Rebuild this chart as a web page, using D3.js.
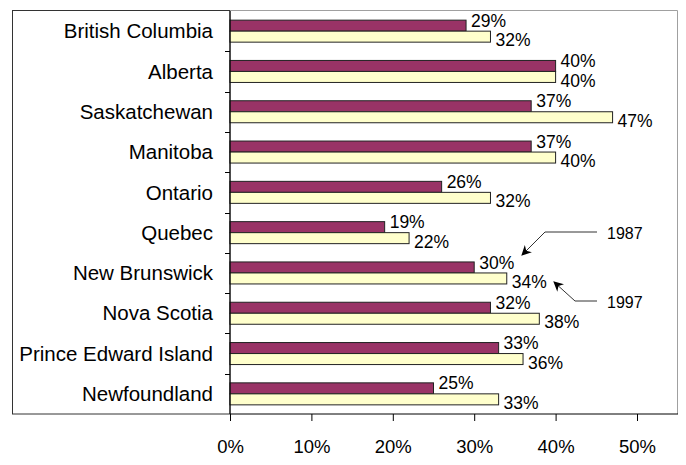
<!DOCTYPE html>
<html>
<head>
<meta charset="utf-8">
<script src="https://cdn.jsdelivr.net/npm/d3@7"></script>
<style>
  body { margin: 0; background: #fff; }
  text { font-family: "Liberation Sans", Arial, sans-serif; fill: #000; }
</style>
</head>
<body>
<svg id="chart" width="686" height="465"></svg>
<script>
// provinces, top to bottom
const provinces = ['British Columbia', 'Alberta', 'Saskatchewan', 'Manitoba', 'Ontario',
    'Quebec', 'New Brunswick', 'Nova Scotia', 'Prince Edward Island', 'Newfoundland'];
const years = ['1987', '1997'];
const values1987 = [29, 40, 37, 37, 26, 19, 30, 32, 33, 25];
const values1997 = [32, 40, 47, 40, 32, 22, 34, 38, 36, 33];
const xTicks = [0, 10, 20, 30, 40, 50];

const colors = { '1987': '#993366', '1997': '#FFFFCC' };

const svg = d3.select('#chart');

// plot area
const plotLeft = 230, plotRight = 677, plotTop = 11, plotBottom = 414;

const xScale = d3.scaleLinear()
    .domain([0, 50])
    .range([plotLeft, 637]);

const yScale = d3.scaleBand()
    .domain(provinces)
    .range([plotTop, plotBottom])
    .paddingInner(0.454)
    .paddingOuter(0.227);

const ySub = d3.scaleBand()
    .domain(years)
    .range([0, yScale.bandwidth()]);

const step = yScale.step();

// frame round the category labels
svg.append('rect')
    .attr('x', 12.5).attr('y', 10.5)
    .attr('width', plotLeft - 12.5).attr('height', plotBottom - 10.5)
    .attr('fill', 'none').attr('stroke', '#333').attr('stroke-width', 1);

// plot area border (grey)
svg.append('path')
    .attr('d', `M${plotLeft},${plotTop - 0.5}H${plotRight + 0.5}V${plotBottom}`)
    .attr('fill', 'none').attr('stroke', '#a0a0a0').attr('stroke-width', 1);

// rows
const rows = provinces.map((p, i) => ({ name: p, v1987: values1987[i], v1997: values1997[i] }));

const groups = svg.selectAll('.row')
    .data(rows)
    .enter().append('g')
    .attr('class', 'row')
    .attr('transform', d => `translate(0,${yScale(d.name)})`);

years.forEach(yr => {
    groups.append('rect')
        .attr('x', xScale(0))
        .attr('y', ySub(yr))
        .attr('width', d => xScale(d['v' + yr]) - xScale(0))
        .attr('height', ySub.bandwidth())
        .attr('fill', colors[yr])
        .attr('stroke', '#222')
        .attr('stroke-width', 1);
});

// value labels
groups.append('text')
    .attr('x', d => xScale(d.v1987) + 5)
    .attr('y', ySub('1987') + 0.5)
    .attr('dy', '0.35em')
    .style('font-size', '17.5px')
    .text(d => d.v1987 + '%');

groups.append('text')
    .attr('x', d => xScale(d.v1997) + 5)
    .attr('y', ySub('1997') + ySub.bandwidth() / 2 + 3.5)
    .attr('dy', '0.35em')
    .style('font-size', '17.5px')
    .text(d => d.v1997 + '%');

// category labels
svg.selectAll('.cat')
    .data(provinces)
    .enter().append('text')
    .attr('class', 'cat')
    .attr('x', 213)
    .attr('y', d => yScale(d) + yScale.bandwidth() / 2)
    .attr('dy', '0.35em')
    .attr('text-anchor', 'end')
    .style('font-size', '20.5px')
    .text(d => d);

// y axis line and ticks between categories
svg.append('line')
    .attr('x1', plotLeft).attr('x2', plotLeft)
    .attr('y1', plotTop).attr('y2', plotBottom)
    .attr('stroke', '#000');

const boundaries = provinces.slice(1).map(p => yScale(p) - (step - yScale.bandwidth()) / 2);
svg.selectAll('.ytick')
    .data(boundaries)
    .enter().append('line')
    .attr('x1', plotLeft - 5).attr('x2', plotLeft)
    .attr('y1', d => Math.round(d) + 0.5).attr('y2', d => Math.round(d) + 0.5)
    .attr('stroke', '#000');

// x axis
const xAxis = svg.append('g')
    .attr('transform', `translate(0,${plotBottom})`)
    .call(d3.axisBottom(xScale)
        .tickValues(xTicks)
        .tickFormat(d => d + '%')
        .tickSize(7)
        .tickSizeOuter(0)
        .tickPadding(19));
xAxis.select('.domain').remove();
xAxis.selectAll('text')
    .style('font-size', '18.5px')
    .style('font-family', '"Liberation Sans", Arial, sans-serif');
xAxis.append('line')
    .attr('x1', plotLeft).attr('x2', plotRight + 1)
    .attr('stroke', '#000');

// arrow annotations
const defs = svg.append('defs');
defs.append('marker')
    .attr('id', 'arrow')
    .attr('viewBox', '0 0 10 10')
    .attr('refX', 9).attr('refY', 5)
    .attr('markerWidth', 10).attr('markerHeight', 10)
    .attr('markerUnits', 'userSpaceOnUse')
    .attr('orient', 'auto')
    .append('path')
    .attr('d', 'M0,0L10,5L0,10L3,5Z')
    .attr('fill', '#000');

const notes = [
    { label: '1987', pts: [[597, 232], [545, 232], [522, 255]] },
    { label: '1997', pts: [[597, 301], [575, 301], [554, 282]] }
];

svg.selectAll('.note-line')
    .data(notes)
    .enter().append('path')
    .attr('d', d => d3.line()(d.pts))
    .attr('fill', 'none')
    .attr('stroke', '#333')
    .attr('stroke-width', 1)
    .attr('marker-end', 'url(#arrow)');

svg.selectAll('.note-text')
    .data(notes)
    .enter().append('text')
    .attr('x', 607)
    .attr('y', d => d.pts[0][1] + 1)
    .attr('dy', '0.35em')
    .style('font-size', '16px')
    .text(d => d.label);
</script>
</body>
</html>
